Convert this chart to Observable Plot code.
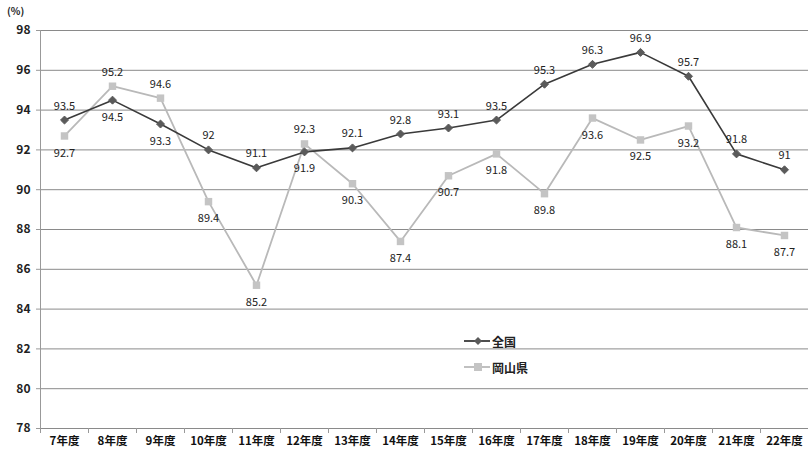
<!DOCTYPE html>
<html><head><meta charset="utf-8">
<script src="https://cdn.jsdelivr.net/npm/d3@7"></script>
<script src="https://cdn.jsdelivr.net/npm/@observablehq/plot@0.6"></script>
<style>
body{margin:0;background:#fff;font-family:"Noto Sans CJK JP","Noto Sans",sans-serif;}
#wrap{position:relative;width:808px;height:456px;}
#unit{position:absolute;left:7px;top:4px;font-size:10px;font-weight:bold;color:#222;line-height:14px;}
#legend{position:absolute;left:462px;top:328px;font-size:12px;font-weight:bold;color:#222;}
#legend div{display:flex;align-items:center;height:26px;}
</style></head>
<body><div id="wrap"><div id="unit">(%)</div><div id="legend"></div></div>
<script>
const years = ["7年度","8年度","9年度","10年度","11年度","12年度","13年度","14年度","15年度","16年度","17年度","18年度","19年度","20年度","21年度","22年度"];
const zenkoku = [93.5,94.5,93.3,92,91.1,91.9,92.1,92.8,93.1,93.5,95.3,96.3,96.9,95.7,91.8,91];
const okayama = [92.7,95.2,94.6,89.4,85.2,92.3,90.3,87.4,90.7,91.8,89.8,93.6,92.5,93.2,88.1,87.7];
const seriesNames = ["全国","岡山県"];
const yTicks = [78,80,82,84,86,88,90,92,94,96,98];

const colors = {"全国":"#3a3a3a","岡山県":"#b9b9b9"};
const markColors = {"全国":"#5a5a5a","岡山県":"#c4c4c4"};

const rows = [];
years.forEach((y,i)=>{
  rows.push({i, year:y, series:"全国", value:zenkoku[i], other:okayama[i]});
  rows.push({i, year:y, series:"岡山県", value:okayama[i], other:zenkoku[i]});
});
const nat = rows.filter(d=>d.series==="全国");
const oka = rows.filter(d=>d.series==="岡山県");
const above = rows.filter(d=>d.value>d.other);
const below = rows.filter(d=>d.value<=d.other);

const chart = Plot.plot({
  width: 808, height: 456,
  marginLeft: 40, marginRight: 0, marginTop: 30, marginBottom: 28,
  style:{fontFamily:'"Noto Sans CJK JP","Noto Sans",sans-serif', background:"transparent"},
  x:{type:"linear", domain:[-0.5, years.length-0.5]},
  y:{domain:[78,98]},
  marks:[
    Plot.ruleY(yTicks, {stroke:"#8a8a8a", strokeWidth:1}),
    Plot.ruleX([-0.5], {stroke:"#999", strokeWidth:1}),
    Plot.axisY({ticks:yTicks, tickSize:4, tickPadding:6, fontSize:12, fontWeight:"bold", fill:"#222", stroke:"#999", label:null}),
    Plot.axisX({ticks:d3.range(-0.5, years.length, 1), tickSize:5, tickFormat:()=>"", stroke:"#999", label:null}),
    Plot.axisX({ticks:d3.range(0, years.length), tickSize:0, tickPadding:8, tickFormat:i=>years[i], fontSize:11.5, fontWeight:"bold", fill:"#111", label:null}),
    Plot.line(oka, {x:"i", y:"value", stroke:colors["岡山県"], strokeWidth:1.8}),
    Plot.line(nat, {x:"i", y:"value", stroke:colors["全国"], strokeWidth:1.6}),
    Plot.dot(oka, {x:"i", y:"value", symbol:"square", r:4.2, fill:markColors["岡山県"], stroke:"none"}),
    Plot.dot(nat, {x:"i", y:"value", symbol:"diamond2", r:3.6, fill:markColors["全国"], stroke:markColors["全国"], strokeWidth:1}),
    Plot.text(above, {x:"i", y:"value", text:d=>String(d.value), dy:-14, fontSize:11, fill:"#222", fontWeight:"normal"}),
    Plot.text(below, {x:"i", y:"value", text:d=>String(d.value), dy:17, fontSize:11, fill:"#222", fontWeight:"normal"})
  ]
});
document.getElementById("wrap").appendChild(chart);

const leg = document.getElementById("legend");
seriesNames.forEach(name=>{
  const row = document.createElement("div");
  const sym = name==="全国"
    ? `<path d="M16,5 L20,9 L16,13 L12,9 Z" fill="${markColors[name]}"/>`
    : `<rect x="12" y="5" width="8" height="8" fill="${markColors[name]}"/>`;
  row.innerHTML = `<svg width="30" height="18"><line x1="2" y1="9" x2="28" y2="9" stroke="${colors[name]}" stroke-width="1.8"/>${sym}</svg><span>${name}</span>`;
  leg.appendChild(row);
});
</script></body></html>
